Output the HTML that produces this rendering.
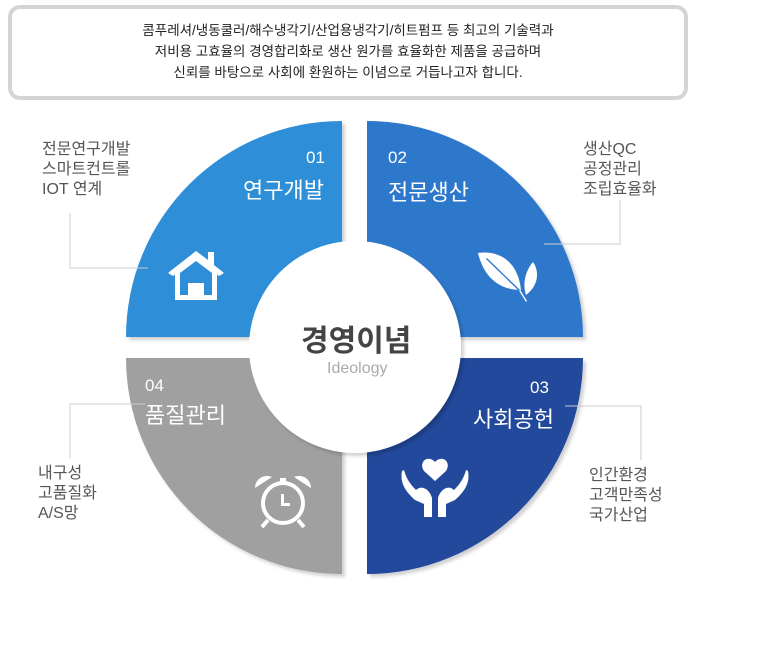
<!DOCTYPE html>
<html><head><meta charset="utf-8"><style>
html,body{margin:0;padding:0;background:#fff;}
body{width:758px;height:650px;position:relative;overflow:hidden;font-family:"Liberation Sans","Noto Sans CJK KR",sans-serif;}
.box{position:absolute;left:8px;top:5px;width:672px;height:87px;border:4px solid #d4d4d4;border-radius:12px;text-align:center;font-size:13.5px;color:#222;line-height:21px;}
.box div{margin-top:11px}
.t{position:absolute;white-space:nowrap;}
.side{font-size:16px;color:#555;line-height:20px;}
.w{color:#fff;}
</style></head><body>
<div class="box"><div>콤푸레셔/냉동쿨러/해수냉각기/산업용냉각기/히트펌프 등 최고의 기술력과<br>저비용 고효율의 경영합리화로 생산 원가를 효율화한 제품을 공급하며<br>신뢰를 바탕으로 사회에 환원하는 이념으로 거듭나고자 합니다.</div></div>
<svg width="758" height="650" style="position:absolute;left:0;top:0">
<defs><filter id="s" x="-10%" y="-10%" width="130%" height="130%"><feDropShadow dx="3" dy="3" stdDeviation="1.5" flood-color="#000" flood-opacity="0.18"/></filter></defs>
<path d="M342 337 L126 337 A216 216 0 0 1 342 121 Z" fill="#2f8fd8" filter="url(#s)"/>
<path d="M367 337 L367 121 A216 216 0 0 1 583 337 Z" fill="#2e78cc" filter="url(#s)"/>
<path d="M367 358 L583 358 A216 216 0 0 1 367 574 Z" fill="#234a9c" filter="url(#s)"/>
<path d="M342 358 L342 574 A216 216 0 0 1 126 358 Z" fill="#a0a0a0" filter="url(#s)"/>
<circle cx="355" cy="347" r="106" fill="#fff" filter="url(#s)"/>
<g stroke="#ccc" stroke-width="1" fill="none">
<polyline points="70,213 70,268 148,268"/>
<polyline points="70,458 70,404 145,404"/>
<polyline points="620,200 620,244 544,244"/>
<polyline points="641,460 641,406 565,406"/>
</g>
<g fill="#fff">
<polygon points="196,251 168,273 173,276 196,258 219,276 224,273 214,265 214,252 208,252 208,260"/>
<path d="M175 270 L196 254 L217 270 L217 300 L175 300 Z M180 273 L180 295 L188 295 L188 283 L204 283 L204 295 L212 295 L212 273 L196 261 Z"/>
</g>
<g fill="#fff">
<path d="M478 253 C500 250 518 262 521 290 C500 290 484 278 478 253 Z"/>
<path d="M533 262 C540 272 538 286 526 295 C522 283 526 270 533 262 Z"/>
<path d="M519 288 L527 301 L526 302 L518 289 Z"/>
<path d="M487 258 L520 290 L519 291 L486 259 Z" fill="#2e78cc"/>
</g>
<g fill="none" stroke="#fff" stroke-width="4">
<circle cx="283" cy="503" r="20"/>
<line x1="268" y1="520" x2="262" y2="527"/><line x1="298" y1="520" x2="304" y2="527"/>
</g>
<g fill="#fff"><path d="M255 488 A12 12 0 0 1 272 477 Z"/><path d="M311 488 A12 12 0 0 0 294 477 Z"/><rect x="280" y="478" width="6" height="5"/><rect x="281" y="494" width="3" height="12"/><rect x="281" y="503" width="9" height="3"/></g>
<g fill="#fff">
<path d="M435 462 C428 454 418 462 424 471 L435 481 L446 471 C452 462 442 454 435 462 Z"/>
<path d="M402 471 C400 482 404 490 415 500 L424 504 L424 517 L432 517 L432 498 C430 490 422 484 416 490 C410 484 406 478 404 470 Z"/>
<path d="M468 471 C470 482 466 490 455 500 L446 504 L446 517 L438 517 L438 498 C440 490 448 484 454 490 C460 484 464 478 466 470 Z"/>
</g>
</svg>
<div class="t w" style="left:306px;top:148px;font-size:17px">01</div>
<div class="t w" style="left:243px;top:173px;font-size:22px">연구개발</div>
<div class="t w" style="left:388px;top:148px;font-size:17px">02</div>
<div class="t w" style="left:388px;top:175px;font-size:22px">전문생산</div>
<div class="t w" style="left:145px;top:376px;font-size:17px">04</div>
<div class="t w" style="left:145px;top:398px;font-size:22px">품질관리</div>
<div class="t w" style="left:530px;top:378px;font-size:17px">03</div>
<div class="t w" style="left:473px;top:402px;font-size:22px">사회공헌</div>
<div class="t" style="left:301px;top:316px;font-size:30px;font-weight:bold;color:#444">경영이념</div>
<div class="t" style="left:327px;top:360px;font-size:16px;color:#aaa">Ideology</div>
<div class="t side" style="left:42px;top:140px">전문연구개발<br>스마트컨트롤<br>IOT 연계</div>
<div class="t side" style="left:38px;top:464px">내구성<br>고품질화<br>A/S망</div>
<div class="t side" style="left:583px;top:140px">생산QC<br>공정관리<br>조립효율화</div>
<div class="t side" style="left:589px;top:466px">인간환경<br>고객만족성<br>국가산업</div>
</body></html>
